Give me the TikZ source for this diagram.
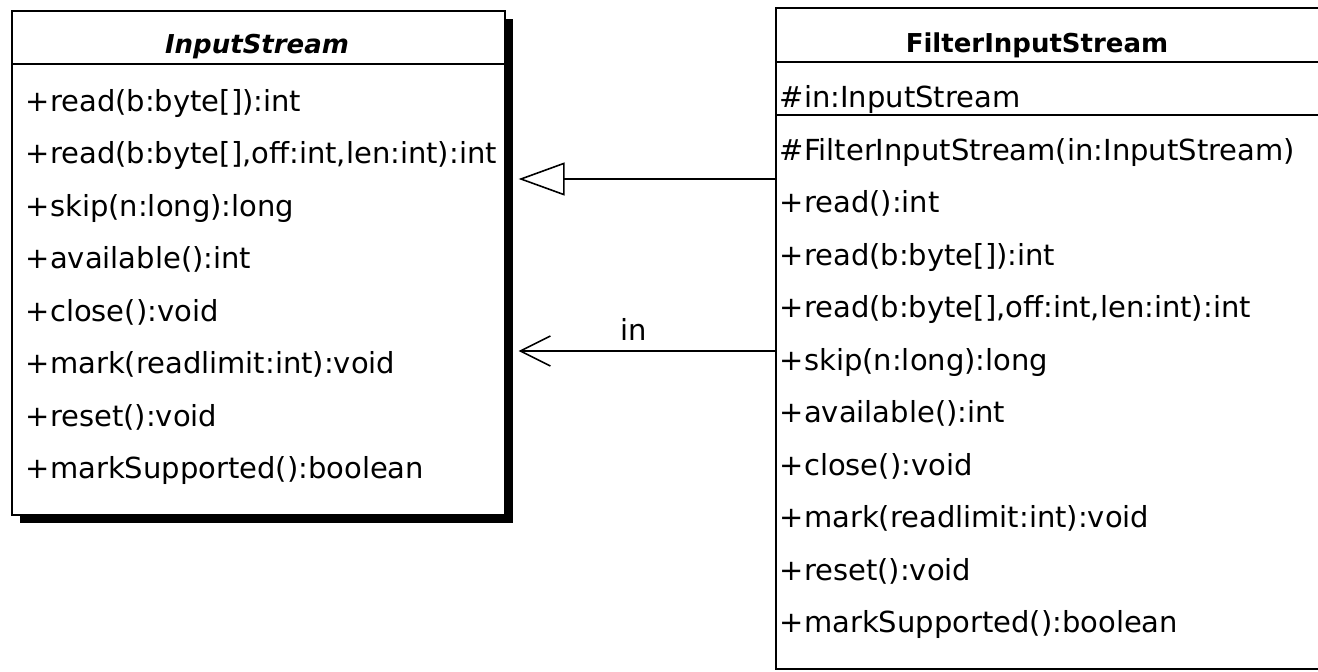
\documentclass[tikz,border=0pt]{standalone}
\usepackage{fontspec}
\setmainfont{DejaVu Sans}
\usepackage{tikz}
\usetikzlibrary{arrows.meta,shadows}

\begin{document}
\begin{tikzpicture}[x=1pt,y=-1pt,line width=1.6pt,
  classbox/.style={draw=black,fill=white,anchor=north west,inner sep=0pt},
  shadowed/.style={drop shadow={opacity=1,fill=black,shadow xshift=8pt,shadow yshift=-8pt}},
  title/.style={anchor=base,inner sep=0pt,font=\fontsize{26}{26}\selectfont\bfseries},
  member/.style={anchor=base west,inner sep=0pt,font=\fontsize{29}{29}\selectfont},
  generalization/.style={-{Triangle[open,length=46pt,width=33pt]}},
  association/.style={-{Straight Barb[length=30pt,width=30pt]}}]
\useasboundingbox (0,0) rectangle (1318,672);
\clip (0,0) rectangle (1318,672);
\fill[white] (0,0) rectangle (1318,672);
\node[classbox,shadowed,minimum width=493pt,minimum height=504pt] (istream) at (11,10) {};
\draw (istream.west |- 0,64) -- (istream.east |- 0,64);
\node[title,font=\fontsize{26}{26}\selectfont\bfseries\itshape] (istream-name) at (257,53) {InputStream};
\node[member] (is-m1) at (25,111) {+read(b:byte[]):int};
\node[member] (is-m2) at (25,163.5) {+read(b:byte[],off:int,len:int):int};
\node[member] (is-m3) at (25,216) {+skip(n:long):long};
\node[member] (is-m4) at (25,268.5) {+available():int};
\node[member] (is-m5) at (25,321) {+close():void};
\node[member] (is-m6) at (25,373.5) {+mark(readlimit:int):void};
\node[member] (is-m7) at (25,426) {+reset():void};
\node[member] (is-m8) at (25,478.5) {+markSupported():boolean};
\node[classbox,minimum width=560pt,minimum height=661pt] (fistream) at (775,7) {};
\draw (fistream.west |- 0,62) -- (fistream.east |- 0,62);
\draw (fistream.west |- 0,115) -- (fistream.east |- 0,115);
\node[title] (fis-name) at (1037,52) {FilterInputStream};
\node[member] (fis-a1) at (779,107) {\#in:InputStream};
\node[member] (fis-m1) at (779,160) {\#FilterInputStream(in:InputStream)};
\node[member] (fis-m2) at (779,212.5) {+read():int};
\node[member] (fis-m3) at (779,265) {+read(b:byte[]):int};
\node[member] (fis-m4) at (779,317.5) {+read(b:byte[],off:int,len:int):int};
\node[member] (fis-m5) at (779,370) {+skip(n:long):long};
\node[member] (fis-m6) at (779,422.5) {+available():int};
\node[member] (fis-m7) at (779,475) {+close():void};
\node[member] (fis-m8) at (779,527.5) {+mark(readlimit:int):void};
\node[member] (fis-m9) at (779,580) {+reset():void};
\node[member] (fis-m10) at (779,632.5) {+markSupported():boolean};
\coordinate (is-rim) at ([xshift=13pt]istream.north east);
\draw[generalization] (fistream.west |- 0,179) -- (is-rim |- 0,179);
\draw[association] (fistream.west |- 0,351) -- (is-rim |- 0,351) node[pos=0.55,above=10pt,inner sep=0pt,font=\fontsize{29}{29}\selectfont] (assoc-name) {in};
\end{tikzpicture}
\end{document}
